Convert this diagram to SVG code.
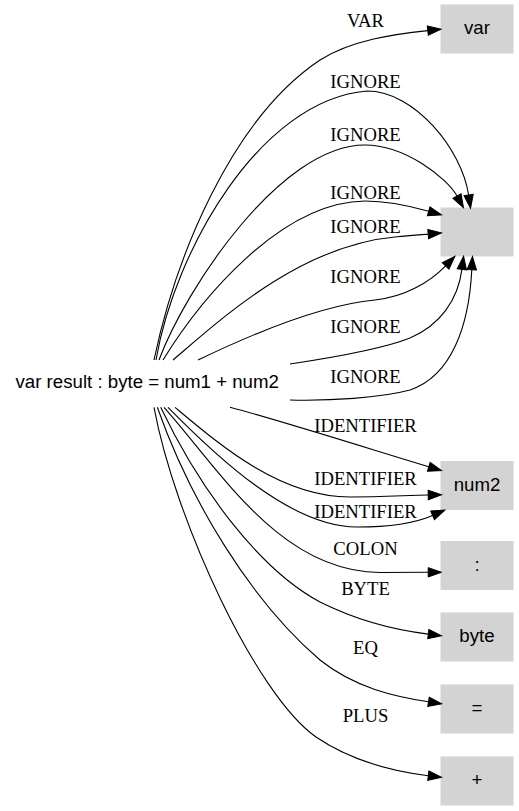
<svg xmlns="http://www.w3.org/2000/svg" width="519" height="811" viewBox="0 0 519 811">
<style>
.box{fill:#d3d3d3;stroke:#d3d3d3;stroke-width:1}
.nl{font-family:"Liberation Sans",Arial,sans-serif;font-size:18.67px;fill:#000;text-anchor:middle}
.el{font-family:"Liberation Serif","Times New Roman",serif;font-size:18.67px;fill:#000;text-anchor:middle}
.e{fill:none;stroke:#000;stroke-width:1.1;marker-end:url(#ah)}
</style>
<defs>
<marker id="ah" viewBox="0 -5 14 10" refX="0" refY="0" markerWidth="14" markerHeight="10" markerUnits="userSpaceOnUse" orient="auto" overflow="visible">
<path d="M0,-4.67L13.33,0L0,4.67z" fill="#000" stroke="#000" stroke-width="1"/>
</marker>
</defs>
<rect width="519" height="811" fill="#fff"/>
<g id="n_src">
<text class="nl" x="147.2" y="388">var result : byte = num1 + num2</text>
</g>
<g id="n_var">
<rect class="box" x="441" y="5" width="72" height="48"/>
<text class="nl" x="477" y="34">var</text>
</g>
<g id="n_ignore">
<rect class="box" x="441" y="208" width="72" height="48"/>
</g>
<g id="n_num2">
<rect class="box" x="441" y="461.5" width="72" height="48"/>
<text class="nl" x="477" y="490.5">num2</text>
</g>
<g id="n_colon">
<rect class="box" x="441" y="541.5" width="72" height="48"/>
<text class="nl" x="477" y="570.5">:</text>
</g>
<g id="n_byte">
<rect class="box" x="441" y="613" width="72" height="48"/>
<text class="nl" x="477" y="642">byte</text>
</g>
<g id="n_eq">
<rect class="box" x="441" y="685" width="72" height="48"/>
<text class="nl" x="477" y="714">=</text>
</g>
<g id="n_plus">
<rect class="box" x="441" y="757" width="72" height="48"/>
<text class="nl" x="477" y="786">+</text>
</g>
<g id="edges">
<path class="e" d="M154,360 C175,260 230,120 320,60 C352,40 395,34 427.8,30.6"/>
<text class="el" x="365.5" y="26.7">VAR</text>
<path class="e" d="M156,360 C175,250 260,100 367,91 C415,91 462,150 468.6,195"/>
<text class="el" x="365.5" y="88.3">IGNORE</text>
<path class="e" d="M159,360 C185,290 280,145 365,145 C405,145 447,178 457,196"/>
<text class="el" x="365.5" y="141">IGNORE</text>
<path class="e" d="M163,360 C200,300 280,202 365,201 C390,201 410,206 428.7,211.3"/>
<text class="el" x="365.5" y="199">IGNORE</text>
<path class="e" d="M173,360 C220,320 300,245 397,236.7 C410,235.5 420,234.8 428.2,234.1"/>
<text class="el" x="365.5" y="232.7">IGNORE</text>
<path class="e" d="M198,360 C250,335 320,305 375,300 C405,297 430,282 445.6,265.9"/>
<text class="el" x="365.5" y="282.7">IGNORE</text>
<path class="e" d="M290,364 C330,358 380,350 410,338 C440,325 458,300 461.9,269.4"/>
<text class="el" x="365.5" y="332.7">IGNORE</text>
<path class="e" d="M290,400 C330,401 380,398 410,390 C452,376 469,325 471.8,269.7"/>
<text class="el" x="365.5" y="382.7">IGNORE</text>
<path class="e" d="M230,407.3 C275,419 370,449 428.8,466.8"/>
<text class="el" x="365.5" y="431.5">IDENTIFIER</text>
<path class="e" d="M175,407.3 C220,445 280,497 350,497 C380,497 405,495.5 428.2,495"/>
<text class="el" x="365.5" y="484.8">IDENTIFIER</text>
<path class="e" d="M168,407.3 C215,455 290,527 357,527 C390,527 415,523 432.6,515.4"/>
<text class="el" x="365.5" y="518">IDENTIFIER</text>
<path class="e" d="M164,407.3 C220,470 280,572 380,572.5 C400,572.5 415,572.3 428.2,572.3"/>
<text class="el" x="365.5" y="554.5">COLON</text>
<path class="e" d="M160.7,407.3 C200,490 260,570 320,602 C360,622 395,630 428.3,634.1"/>
<text class="el" x="365.5" y="595">BYTE</text>
<path class="e" d="M157.3,407.3 C190,500 250,600 320,660 C355,688 395,696.5 428.5,701.8"/>
<text class="el" x="365.5" y="654.3">EQ</text>
<path class="e" d="M154,407.3 C175,520 256,695 316,737 C350,760 390,771 428.3,775.7"/>
<text class="el" x="365.5" y="722.3">PLUS</text>
</g>
</svg>
